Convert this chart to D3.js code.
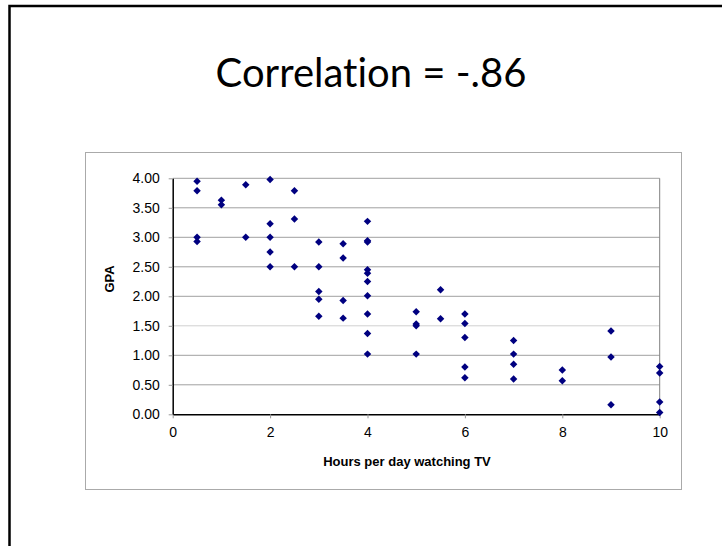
<!DOCTYPE html>
<html>
<head>
<meta charset="utf-8">
<script src="https://cdn.jsdelivr.net/npm/d3@7"></script>
<style>
  body { margin: 0; background: #fff; }
  svg { display: block; }
  .tick text { font-family: "Liberation Sans", Arial, sans-serif; font-size: 14px; fill: #000; }
</style>
</head>
<body>
<svg id="slide" width="722" height="546"></svg>
<script>
// hours of TV per day, one entry per student
var hours = [0.5,0.5,0.5,0.5, 1,1, 1.5,1.5, 2,2,2,2,2, 2.5,2.5,2.5,
             3,3,3,3,3, 3.5,3.5,3.5,3.5, 4,4,4,4,4,4,4,4,4,4,
             5,5,5,5, 5.5,5.5, 6,6,6,6,6, 7,7,7,7, 8,8, 9,9,9, 10,10,10,10];
// GPA for the same students
var gpa = [3.95,3.79,3.00,2.93, 3.63,3.55, 3.89,3.00, 3.98,3.23,3.00,2.75,2.50, 3.79,3.31,2.50,
           2.92,2.50,2.08,1.95,1.66, 2.89,2.65,1.93,1.63, 3.27,2.94,2.92,2.45,2.39,2.25,2.01,1.70,1.37,1.02,
           1.74,1.53,1.50,1.02, 2.11,1.62, 1.70,1.54,1.30,0.80,0.62, 1.25,1.02,0.85,0.60, 0.75,0.57, 1.41,0.97,0.16,
           0.81,0.70,0.21,0.03];
var xTicks = [0,2,4,6,8,10];
var yTicks = [0,0.5,1,1.5,2,2.5,3,3.5,4];

var svg = d3.select("#slide");

// slide frame (runs off the right and bottom edges)
svg.append("rect")
    .attr("x", 9.5).attr("y", 6)
    .attr("width", 800).attr("height", 700)
    .attr("fill", "none").attr("stroke", "#000").attr("stroke-width", 2.5);

svg.append("text")
    .attr("x", 371).attr("y", 87)
    .attr("text-anchor", "middle")
    .style("font-family", "Lato, 'Open Sans', sans-serif")
    .style("font-size", "40px")
    .style("font-variant-ligatures", "none")
    .text("Correlation = -.86");

// chart box
svg.append("rect")
    .attr("x", 85.5).attr("y", 152.5)
    .attr("width", 596).attr("height", 337)
    .attr("fill", "#fff").attr("stroke", "#aaa").attr("stroke-width", 1);

var x = d3.scaleLinear().domain([0, 10]).range([172.7, 659.7]),
    y = d3.scaleLinear().domain([0, 4]).range([414.3, 178.3]);

// gridlines
svg.append("g").selectAll("line")
    .data(yTicks.filter(d => d > 0))
    .join("line")
    .attr("x1", x(0)).attr("x2", x(10))
    .attr("y1", d => y(d)).attr("y2", d => y(d))
    .attr("stroke", d => d == 1.5 ? "#d0d0d0" : "#a0a0a0");

// right border of the plot area
svg.append("line")
    .attr("x1", x(10)).attr("x2", x(10))
    .attr("y1", y(4)).attr("y2", y(0))
    .attr("stroke", "#808080");

var xAxis = svg.append("g")
    .attr("transform", "translate(0," + y(0) + ")")
    .call(d3.axisBottom(x).tickValues(xTicks).tickFormat(d3.format("d"))
        .tickSizeInner(4).tickSizeOuter(0).tickPadding(9));

var yAxis = svg.append("g")
    .attr("transform", "translate(" + x(0) + ",0)")
    .call(d3.axisLeft(y).tickValues(yTicks).tickFormat(d3.format(".2f"))
        .tickSizeInner(4).tickSizeOuter(0).tickPadding(9));

xAxis.selectAll(".tick line").attr("stroke", "#999");
yAxis.selectAll(".tick line").attr("stroke", "#999");
xAxis.select(".domain").attr("stroke", "#000").attr("stroke-width", 1.5);
yAxis.select(".domain").attr("stroke", "#000").attr("stroke-width", 1.5);

// points
var diamond = d3.symbol().type(d3.symbolSquare).size(28);
svg.append("g").selectAll("path")
    .data(d3.range(hours.length))
    .join("path")
    .attr("d", diamond)
    .attr("transform", i => "translate(" + x(hours[i]) + "," + y(gpa[i]) + ") rotate(45)")
    .attr("fill", "#000080");

// axis titles
svg.append("text")
    .attr("x", 407).attr("y", 466)
    .attr("text-anchor", "middle")
    .style("font-family", "'Liberation Sans', Arial, sans-serif")
    .style("font-size", "13px").style("font-weight", "bold")
    .text("Hours per day watching TV");

svg.append("text")
    .attr("transform", "translate(114,279) rotate(-90)")
    .attr("text-anchor", "middle")
    .style("font-family", "'Liberation Sans', Arial, sans-serif")
    .style("font-size", "13px").style("font-weight", "bold")
    .text("GPA");
</script>
</body>
</html>
